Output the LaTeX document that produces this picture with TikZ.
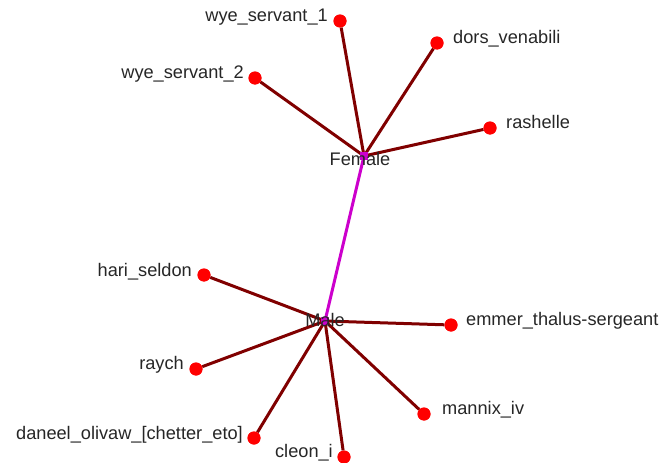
\documentclass[tikz,border=0pt]{standalone}
\usepackage{fontspec}
\setmainfont{Liberation Sans}
\definecolor{edgered}{RGB}{128,0,0}
\definecolor{dotred}{RGB}{255,0,0}
\definecolor{hubmag}{RGB}{204,0,204}
\begin{document}
\begin{tikzpicture}[x=1pt,y=-1pt,
  dot/.style={circle,fill=dotred,inner sep=0pt,minimum size=13pt},
  hub/.style={rectangle,fill=hubmag,inner sep=0pt,minimum size=8pt},
  lbl/.style={inner sep=0pt,font=\fontsize{18.2}{20}\selectfont,text=black!85},
  edge/.style={draw=edgered,line width=3pt},
  medge/.style={draw=hubmag,line width=3pt}]
\useasboundingbox (0,0) rectangle (665,463);
% hubs (coordinates)
\coordinate (F) at (364,156);
\coordinate (M) at (325,321);
% leaf dots
\node[dot] (w1) at (340,21) {};
\node[dot] (dv) at (437,43) {};
\node[dot] (w2) at (255,78) {};
\node[dot] (ra) at (490,128) {};
\node[dot] (hs) at (204,275) {};
\node[dot] (em) at (451,325) {};
\node[dot] (ry) at (196,369) {};
\node[dot] (mx) at (424,414) {};
\node[dot] (dn) at (254,438) {};
\node[dot] (cl) at (344,457) {};
% edges
\path[medge] (F) -- (M);
\foreach \n in {w1,dv,w2,ra} \path[edge] (F) -- (\n);
\foreach \n in {hs,em,ry,mx,dn,cl} \path[edge] (M) -- (\n);
% redraw dots on top
\foreach \n/\p in {w1/{340,21},dv/{437,43},w2/{255,78},ra/{490,128},hs/{204,275},em/{451,325},ry/{196,369},mx/{424,414},dn/{254,438},cl/{344,457}}
  \fill[dotred] (\p) circle (6.5pt);
\node[hub] (Fh) at (F) {};
\node[hub] (Mh) at (M) {};
% labels
\node[lbl,anchor=base east] (lw1) at (328,21) {wye\_servant\_1};
\node[lbl,anchor=base west] (ldv) at (453,43) {dors\_venabili};
\node[lbl,anchor=base east] (lw2) at (244,78) {wye\_servant\_2};
\node[lbl,anchor=base west] (lra) at (506,128) {rashelle};
\node[lbl,anchor=base east] (lhs) at (192,276) {hari\_seldon};
\node[lbl,anchor=base west] (lem) at (466,325) {emmer\_thalus-sergeant};
\node[lbl,anchor=base east] (lry) at (184,369) {raych};
\node[lbl,anchor=base west] (lmx) at (442,414) {mannix\_iv};
\node[lbl,anchor=base east] (ldn) at (243,439) {daneel\_olivaw\_[chetter\_eto]};
\node[lbl,anchor=base east] (lcl) at (333,457) {cleon\_i};
\node[lbl,anchor=base] (lF) at (360,165) {Female};
\node[lbl,anchor=base] (lM) at (325,326) {Male};
\end{tikzpicture}
\end{document}
